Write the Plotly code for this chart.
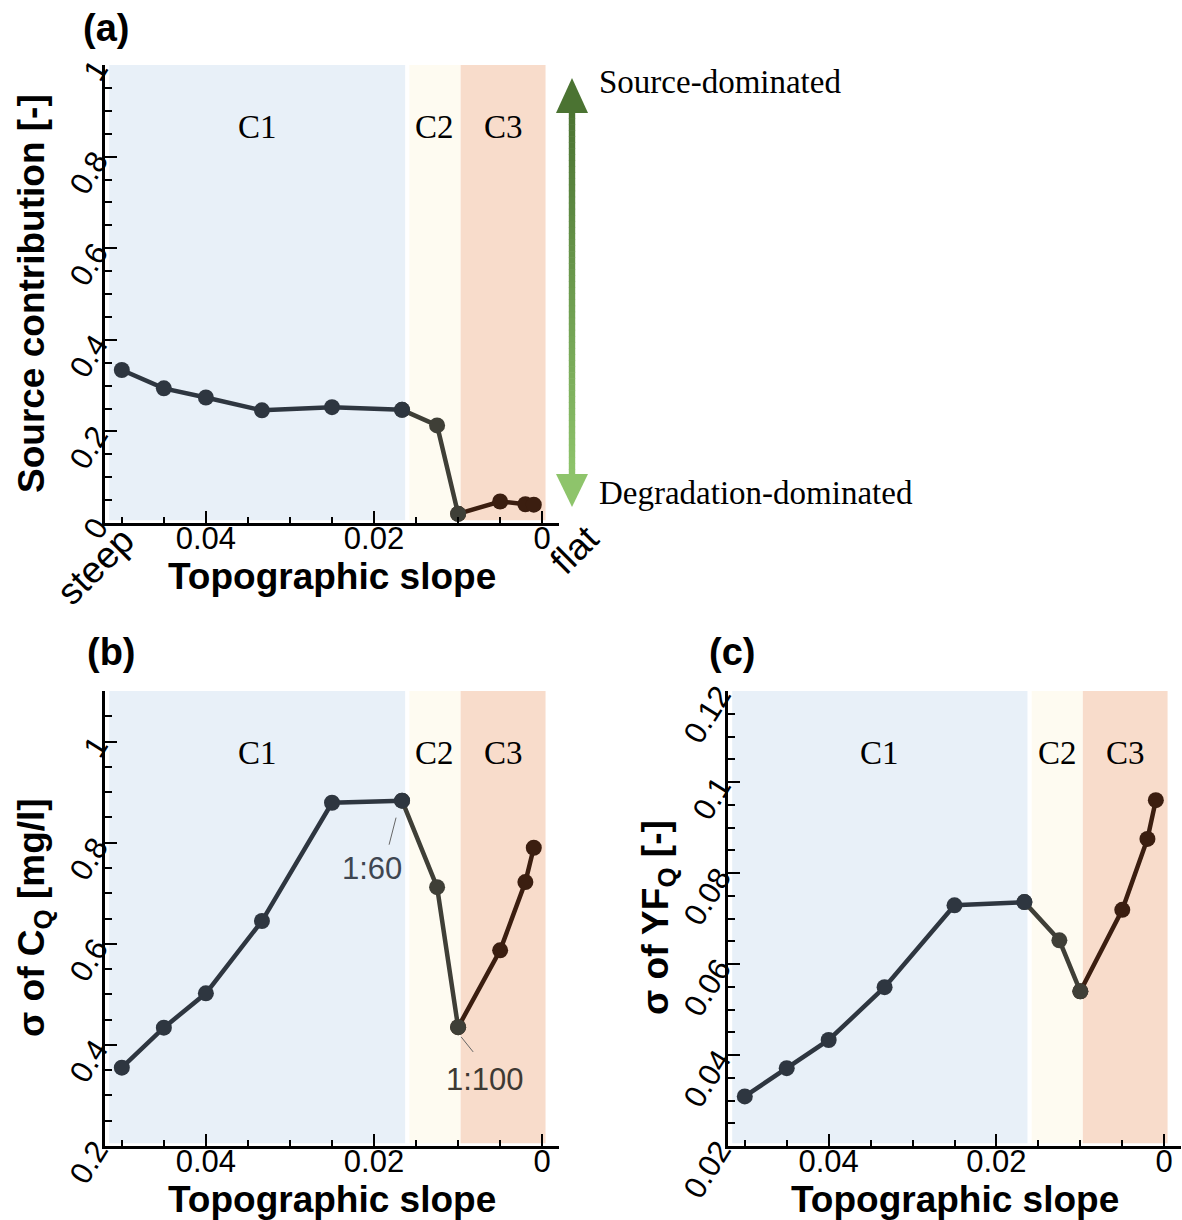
import plotly.graph_objects as go

W, H = 1182, 1220

# ---------------- data ----------------
slope = [0.05, 0.045, 0.04, 1/30, 1/40, 1/60, 1/80, 1/100, 1/200, 1/500, 1/1000]
source_contrib = [0.334, 0.294, 0.274, 0.246, 0.253, 0.247, 0.213, 0.020, 0.047, 0.041, 0.040]
sigma_cq = [0.355, 0.434, 0.502, 0.645, 0.879, 0.883, 0.712, 0.435, 0.587, 0.722, 0.790]
sigma_yfq = [0.0309, 0.0371, 0.0433, 0.0549, 0.0729, 0.0736, 0.0652, 0.0540, 0.0719, 0.0875, 0.0960]

region_names = ["C1", "C2", "C3"]
region_x0 = [0.0515, 0.0158, 0.0097]
region_x1 = [0.0163, 0.0097, -0.0004]
region_fill = ["#E8F0F8", "#FEFBF1", "#F8DCCB"]

segment_idx = [(0, 5), (5, 7), (7, 10)]
segment_color = ["#2E3640", "#3F3F37", "#3B1E10"]

x_range = [0.052, -0.002]
y_ranges = [(0.0, 1.0), (0.2, 1.1), (0.02, 0.12)]
y_dtick = [0.2, 0.2, 0.02]
y_minor = [0.05, 0.05, 0.005]

SANS = "Liberation Sans"
SERIF = "Liberation Serif"

def px(x):
    return x / W

def py(y):
    return 1 - y / H

fig = go.Figure()

panels = [source_contrib, sigma_cq, sigma_yfq]
axes = [("x", "y"), ("x2", "y2"), ("x3", "y3")]

# draw segments: C3 first, then C2, then C1 (so C1 markers on top)
for p, vals in enumerate(panels):
    xa, ya = axes[p]
    for s in [2, 1, 0]:
        a, b = segment_idx[s]
        fig.add_trace(go.Scatter(
            x=slope[a:b + 1], y=vals[a:b + 1], xaxis=xa, yaxis=ya,
            mode="lines+markers",
            line=dict(color=segment_color[s], width=4.5),
            marker=dict(size=16, color=segment_color[s]),
            showlegend=False, hoverinfo="skip"))

shapes = []
annotations = []

# region shading + labels
for p in range(3):
    xa, ya = axes[p]
    lo, hi = y_ranges[p]
    span = hi - lo
    for r in range(3):
        shapes.append(dict(type="rect", xref=xa, yref=ya,
                           x0=region_x0[r], x1=region_x1[r],
                           y0=lo + 0.006 * span, y1=hi,
                           fillcolor=region_fill[r], line=dict(width=0),
                           layer="below"))
        annotations.append(dict(xref=xa, yref=ya,
                                x=(region_x0[r] + region_x1[r]) / 2,
                                y=lo + 0.864 * span,
                                text=region_names[r], showarrow=False,
                                font=dict(family=SERIF, size=33, color="black"),
                                xanchor="center", yanchor="middle"))

# leader annotations in (b)
annotations.append(dict(xref="x2", yref="y2", x=0.0202, y=0.7485, text="1:60",
                        showarrow=False, font=dict(family=SANS, size=31, color="#3E4651")))
shapes.append(dict(type="line", xref="x2", yref="y2", x0=0.01738, y0=0.8495,
                   x1=0.01821, y1=0.7960, line=dict(color="#666666", width=1)))
annotations.append(dict(xref="x2", yref="y2", x=0.0068, y=0.3307, text="1:100",
                        showarrow=False, font=dict(family=SANS, size=31, color="#3E3A34")))
shapes.append(dict(type="line", xref="x2", yref="y2", x0=0.00964, y0=0.4158,
                   x1=0.00821, y1=0.3861, line=dict(color="#666666", width=1)))

# axis titles
xt_font = dict(family=SANS, size=37, color="black")
for (cx, cy) in [(332, 576), (332, 1199), (955, 1199)]:
    annotations.append(dict(xref="paper", yref="paper", x=px(cx), y=py(cy),
                            text="<b>Topographic slope</b>", showarrow=False,
                            font=xt_font, xanchor="center", yanchor="middle"))
ytitles = [("<b>Source contribution [-]</b>", 31, 294),
           ("<b>σ of C<sub>Q</sub> [mg/l]</b>", 34, 918),
           ("<b>σ of YF<sub>Q</sub> [-]</b>", 658, 918)]
for (t, cx, cy) in ytitles:
    annotations.append(dict(xref="paper", yref="paper", x=px(cx), y=py(cy),
                            text=t, showarrow=False, textangle=-90,
                            font=xt_font, xanchor="center", yanchor="middle"))

# panel labels
for (t, cx, cy) in [("(a)", 106, 28), ("(b)", 111, 652), ("(c)", 732, 652)]:
    annotations.append(dict(xref="paper", yref="paper", x=px(cx), y=py(cy),
                            text="<b>" + t + "</b>", showarrow=False,
                            font=dict(family=SANS, size=38, color="black"),
                            xanchor="center", yanchor="middle"))

# steep / flat
for (t, cx, cy) in [("steep", 95, 566), ("flat", 575, 550)]:
    annotations.append(dict(xref="paper", yref="paper", x=px(cx), y=py(cy),
                            text=t, showarrow=False, textangle=-45,
                            font=dict(family=SANS, size=37, color="black"),
                            xanchor="center", yanchor="middle"))

# side texts
for (t, cy) in [("Source-dominated", 82), ("Degradation-dominated", 493)]:
    annotations.append(dict(xref="paper", yref="paper", x=px(597), y=py(cy),
                            text=t, showarrow=False,
                            font=dict(family=SERIF, size=33, color="black"),
                            xanchor="left", yanchor="middle"))

# gradient double arrow (decoration)
ax_c, y_top, y_hb1, y_hb2, y_bot = 572, 78, 113, 474, 507
hw, sw = 16, 3.2
c_top, c_bot = (75, 115, 50), (142, 196, 107)
N = 60
for i in range(N):
    t0 = i / N
    t1 = (i + 1) / N
    ya0 = y_hb1 - 1 + (y_hb2 - y_hb1 + 2) * t0
    ya1 = y_hb1 - 1 + (y_hb2 - y_hb1 + 2) * t1 + 0.6
    tm = (t0 + t1) / 2
    col = "rgb(%d,%d,%d)" % tuple(round(c_top[k] + (c_bot[k] - c_top[k]) * tm) for k in range(3))
    shapes.append(dict(type="rect", xref="paper", yref="paper",
                       x0=px(ax_c - sw), x1=px(ax_c + sw), y0=py(ya0), y1=py(ya1),
                       fillcolor=col, line=dict(width=0)))
shapes.append(dict(type="path", xref="paper", yref="paper",
                   path="M %f,%f L %f,%f L %f,%f Z" % (px(ax_c), py(y_top), px(ax_c - hw), py(y_hb1),
                                                        px(ax_c + hw), py(y_hb1)),
                   fillcolor="rgb(75,115,50)", line=dict(width=0)))
shapes.append(dict(type="path", xref="paper", yref="paper",
                   path="M %f,%f L %f,%f L %f,%f Z" % (px(ax_c), py(y_bot), px(ax_c - hw), py(y_hb2),
                                                        px(ax_c + hw), py(y_hb2)),
                   fillcolor="rgb(142,196,107)", line=dict(width=0)))

# axes
tick_font = dict(family=SANS, size=31, color="black")

def xaxis(domain, anchor):
    return dict(domain=domain, anchor=anchor, range=x_range,
                tickmode="linear", tick0=0, dtick=0.02,
                ticks="inside", ticklen=12, tickwidth=2, tickcolor="black",
                minor=dict(dtick=0.005, tick0=0, ticks="inside", ticklen=6,
                           tickwidth=1.5, tickcolor="black", showgrid=False),
                showline=True, linecolor="black", linewidth=2.5,
                showgrid=False, zeroline=False, tickfont=tick_font,
                ticklabelstandoff=-14,
                automargin=False, fixedrange=True)

def yaxis(domain, anchor, p):
    return dict(domain=domain, anchor=anchor, range=list(y_ranges[p]),
                tickmode="linear", tick0=0, dtick=y_dtick[p],
                ticks="inside", ticklen=12, tickwidth=2, tickcolor="black",
                minor=dict(dtick=y_minor[p], tick0=0, ticks="inside", ticklen=7,
                           tickwidth=1.5, tickcolor="black", showgrid=False),
                showline=True, linecolor="black", linewidth=2.5,
                showgrid=False, zeroline=False, tickfont=tick_font,
                tickangle=-58, automargin=False, fixedrange=True)

xd_left = [px(105), px(559)]
xd_right = [px(728), px(1181)]
yd_top = [py(523), py(65)]
yd_bot = [py(1146), py(691)]

fig.update_layout(
    width=W, height=H,
    margin=dict(l=0, r=0, t=0, b=0),
    paper_bgcolor="white", plot_bgcolor="white",
    showlegend=False,
    xaxis=xaxis(xd_left, "y"),
    yaxis=yaxis(yd_top, "x", 0),
    xaxis2=xaxis(xd_left, "y2"),
    yaxis2=yaxis(yd_bot, "x2", 1),
    xaxis3=xaxis(xd_right, "y3"),
    yaxis3=yaxis(yd_bot, "x3", 2),
    shapes=shapes,
    annotations=annotations,
)

fig.write_html("out.html")
